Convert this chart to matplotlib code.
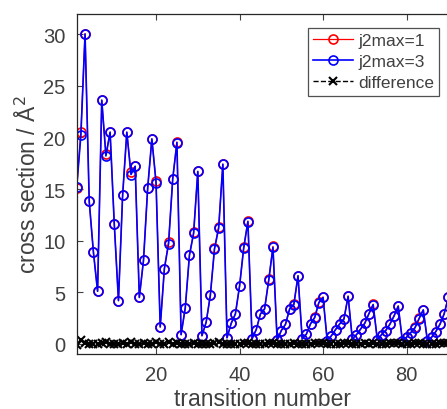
#!/usr/bin/env python

import numpy as np
import matplotlib
matplotlib.use('Agg')
import matplotlib.pyplot as plt

# cross sections per transition
transition = list(range(1, 91))

j2max3 = [15.2, 20.2, 30.0, 13.8, 8.9, 5.1, 23.6, 18.2, 20.5, 11.6,
          4.2, 14.4, 20.5, 16.4, 17.2, 4.5, 8.1, 15.1, 19.85, 15.6,
          1.65, 7.3, 9.7, 16.0, 19.5, 0.9, 3.5, 8.6, 10.7, 16.7,
          0.8, 2.1, 4.7, 9.2, 11.2, 17.4, 0.6, 2.0, 2.9, 5.6,
          9.3, 11.85, 0.5, 1.4, 2.9, 3.4, 6.2, 9.35, 0.35, 1.3,
          1.9, 3.4, 3.8, 6.6, 0.5, 0.95, 1.95, 2.55, 4.0, 4.5,
          0.3, 0.8, 1.4, 1.95, 2.4, 4.6, 0.5, 0.9, 1.45, 2.0,
          2.95, 3.8, 0.4, 0.9, 1.3, 1.9, 2.7, 3.65, 0.3, 0.65,
          1.1, 1.55, 2.45, 3.3, 0.3, 0.65, 1.2, 1.9, 2.9, 4.5]

j2max1 = [15.1, 20.5, 30.05, 13.8, 8.9, 5.1, 23.6, 18.35, 20.5, 11.6,
          4.2, 14.45, 20.5, 16.6, 17.2, 4.5, 8.15, 15.1, 19.85, 15.75,
          1.65, 7.3, 9.85, 16.0, 19.55, 0.9, 3.5, 8.6, 10.8, 16.7,
          0.8, 2.1, 4.7, 9.25, 11.35, 17.4, 0.6, 2.0, 2.9, 5.6,
          9.35, 11.9, 0.5, 1.4, 2.9, 3.4, 6.25, 9.45, 0.35, 1.3,
          1.9, 3.4, 3.85, 6.6, 0.5, 0.95, 1.95, 2.6, 4.05, 4.55,
          0.3, 0.8, 1.4, 1.95, 2.45, 4.65, 0.5, 0.9, 1.45, 2.05,
          2.95, 3.85, 0.4, 0.9, 1.3, 1.95, 2.75, 3.7, 0.3, 0.65,
          1.1, 1.6, 2.5, 3.3, 0.3, 0.65, 1.2, 1.95, 2.95, 4.55]

difference = [-0.1, 0.35, 0.05, 0.0, 0.0, 0.0, 0.05, 0.2, 0.0, 0.0,
              0.0, 0.05, 0.0, 0.2, 0.0, 0.0, 0.05, 0.0, 0.0, 0.15,
              0.0, 0.0, 0.15, 0.0, 0.05, 0.0, 0.0, 0.0, 0.1, 0.0,
              0.0, 0.0, 0.0, 0.05, 0.15, 0.0, 0.0, 0.0, 0.0, 0.0,
              0.05, 0.05, 0.0, 0.0, 0.0, 0.0, 0.05, 0.1, 0.0, 0.0,
              0.0, 0.0, 0.05, 0.0, 0.0, 0.0, 0.0, 0.05, 0.05, 0.05,
              0.0, 0.0, 0.0, 0.0, 0.05, 0.05, 0.0, 0.0, 0.0, 0.05,
              0.0, 0.05, 0.0, 0.0, 0.0, 0.05, 0.05, 0.05, 0.0, 0.0,
              0.0, 0.05, 0.05, 0.0, 0.0, 0.0, 0.0, 0.05, 0.05, 0.05]

plt.rcParams['font.family'] = ['Liberation Sans', 'DejaVu Sans']
textcol = '#404040'

fig = plt.figure(figsize=(4.47, 4.10), dpi=100)
# right spine sits just past the image edge, as in the cropped original
ax = fig.add_axes([76.7 / 447, 55 / 410, 371 / 447, 340 / 410])

ax.plot(transition, j2max1, '-o', color='red', mfc='none', ms=6.5, mew=1.2,
        lw=0.9, label='j2max=1')
ax.plot(transition, j2max3, '-o', color='blue', mfc='none', ms=6.5, mew=1.2,
        lw=1.2, label='j2max=3')
ax.plot(transition, difference, '--x', color='black', ms=6, mew=1.5,
        lw=1.0, label='difference')

ax.set_xlim(1, 89.85)
ax.set_ylim(-0.97, 31.94)
ax.set_xticks([20, 40, 60, 80])
ax.set_yticks([0, 5, 10, 15, 20, 25, 30])

ax.tick_params(direction='in', top=True, right=False, length=4, width=0.8,
               labelsize=14.5, colors=textcol, labelcolor=textcol, pad=8)
for s in ax.spines.values():
    s.set_color('#262626')
    s.set_linewidth(0.9)

ax.set_xlabel('transition number', fontsize=16.5, color=textcol, labelpad=2)
ax.set_ylabel('cross section / Å$^2$', fontsize=16.5, color=textcol, labelpad=2)

leg = ax.legend(loc='upper left', bbox_to_anchor=(0.623, 0.96), fontsize=12.5,
                frameon=True, fancybox=False, edgecolor='#262626',
                handlelength=2.3, handletextpad=0.3, borderpad=0.3,
                labelspacing=0.35, borderaxespad=0)
leg.get_frame().set_linewidth(0.9)
for t in leg.get_texts():
    t.set_color(textcol)

fig.savefig('out.png', dpi=100)
